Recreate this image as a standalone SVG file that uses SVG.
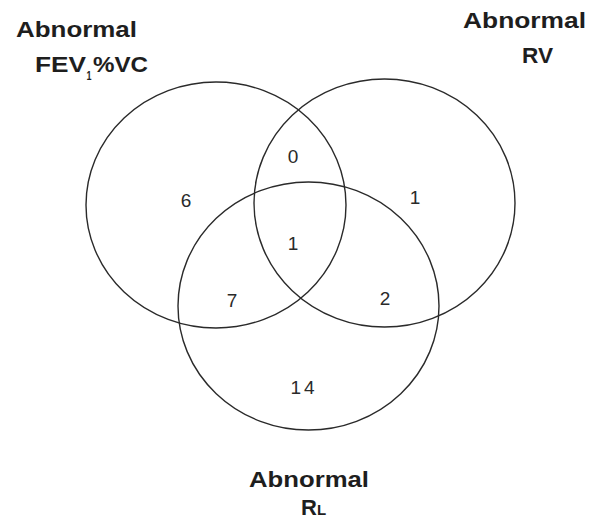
<svg xmlns="http://www.w3.org/2000/svg" width="591" height="522" viewBox="0 0 591 522">
<style>
.set{fill:none;stroke:#2a2a2a;stroke-width:1.4}
.lab{font-family:"Liberation Sans",Arial,sans-serif;font-weight:bold;font-size:22px;fill:#1e1e1e}
.sub{font-family:"Liberation Sans",Arial,sans-serif;font-weight:bold;font-size:13px;fill:#1e1e1e}
.num{font-family:"Liberation Sans",Arial,sans-serif;font-size:19px;fill:#2a2a2a;text-anchor:middle}
</style>
<rect width="591" height="522" fill="#ffffff"/>
<g id="set-fev">
<ellipse class="set" cx="216" cy="205" rx="130" ry="123"/>
<text class="lab" x="16" y="37" textLength="121" lengthAdjust="spacingAndGlyphs">Abnormal</text>
<text class="lab" x="35" y="72" textLength="51" lengthAdjust="spacingAndGlyphs">FEV</text>
<text class="sub" x="86.5" y="80" textLength="5" lengthAdjust="spacingAndGlyphs">1</text>
<text class="lab" x="93" y="72" textLength="55" lengthAdjust="spacingAndGlyphs">%VC</text>
</g>
<g id="set-rv">
<ellipse class="set" cx="384.5" cy="203" rx="130.5" ry="124"/>
<text class="lab" x="463" y="28" textLength="123" lengthAdjust="spacingAndGlyphs">Abnormal</text>
<text class="lab" x="522" y="63" textLength="31" lengthAdjust="spacingAndGlyphs">RV</text>
</g>
<g id="set-rl">
<ellipse class="set" cx="308.5" cy="306" rx="130.5" ry="124"/>
<text class="lab" x="249" y="487" textLength="120" lengthAdjust="spacingAndGlyphs">Abnormal</text>
<text class="lab" x="301" y="515">R<tspan style="font-size:15px">L</tspan></text>
</g>
<g id="counts">
<text class="num" x="293" y="163">0</text>
<text class="num" x="186" y="207">6</text>
<text class="num" x="415" y="204">1</text>
<text class="num" x="293" y="250">1</text>
<text class="num" x="232" y="307">7</text>
<text class="num" x="385" y="305">2</text>
<text class="num" x="304" y="394" letter-spacing="3">14</text>
</g>
</svg>
